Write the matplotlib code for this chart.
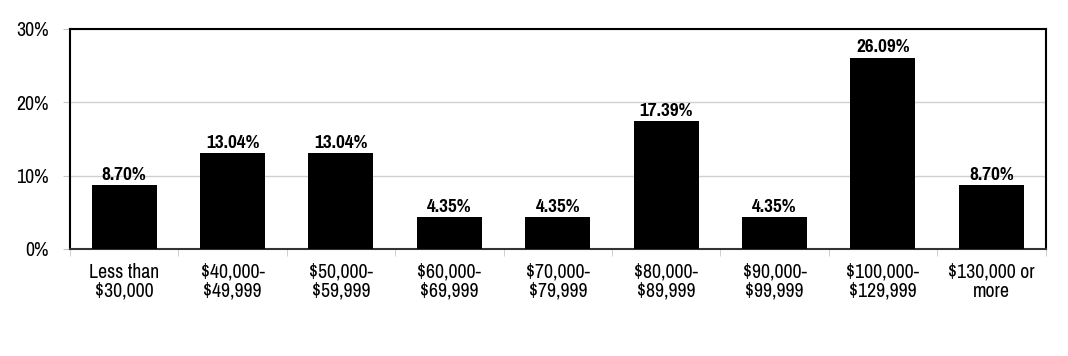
import matplotlib.pyplot as plt
import numpy as np

categories = ["Less than\n$30,000", "$40,000-\n$49,999", "$50,000-\n$59,999",
              "$60,000-\n$69,999", "$70,000-\n$79,999", "$80,000-\n$89,999",
              "$90,000-\n$99,999", "$100,000-\n$129,999", "$130,000 or\nmore"]
values = [8.70, 13.04, 13.04, 4.35, 4.35, 17.39, 4.35, 26.09, 8.70]
yticks = [0, 10, 20, 30]

# Arial Narrow look-alike
plt.rcParams['font.family'] = ['Pragati Narrow', 'Roboto Condensed', 'DejaVu Sans']

fig = plt.figure(figsize=(10.68, 3.56), dpi=100)
ax = fig.add_axes([0.0655, 0.3006, 0.9135, 0.618])

x = np.arange(len(values))
ax.bar(x, values, width=0.6, color='black', zorder=3)
for xi, v in zip(x, values):
    ax.text(xi, v + 0.3, f"{v:.2f}%", ha='center', va='bottom',
            fontsize=15, fontweight='bold', zorder=4)

ax.set_xlim(-0.5, len(values) - 0.5)
ax.set_ylim(0, 30)
ax.set_yticks(yticks)
ax.set_yticklabels([f"{t}%" for t in yticks], fontsize=15.5)
ax.yaxis.grid(True, color='#d0d0d0', linewidth=1, zorder=0)

ax.set_xticks(x)
ax.set_xticklabels(categories, fontsize=15.5, linespacing=1.0)
ax.tick_params(axis='x', length=0, pad=10)
ax.set_xticks(np.arange(len(values) + 1) - 0.5, minor=True)
ax.tick_params(axis='x', which='minor', length=5, color='#c8c8c8')
ax.tick_params(axis='y', length=5, color='#c8c8c8', pad=10)

for s in ['left', 'top', 'right']:
    ax.spines[s].set_linewidth(1.5)
    ax.spines[s].set_color('black')
ax.spines['bottom'].set_linewidth(1.5)
ax.spines['bottom'].set_color('#333333')

fig.savefig('out.png', dpi=100)
